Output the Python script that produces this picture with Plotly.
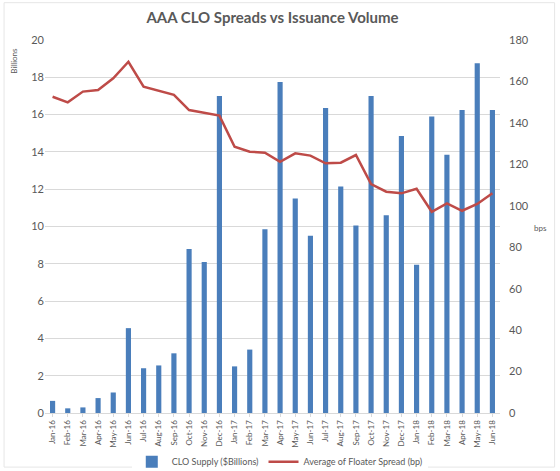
import plotly.graph_objects as go

months = ["Jan-16","Feb-16","Mar-16","Apr-16","May-16","Jun-16","Jul-16","Aug-16","Sep-16","Oct-16",
          "Nov-16","Dec-16","Jan-17","Feb-17","Mar-17","Apr-17","May-17","Jun-17","Jul-17","Aug-17",
          "Sep-17","Oct-17","Nov-17","Dec-17","Jan-18","Feb-18","Mar-18","Apr-18","May-18","Jun-18"]
supply = [0.65, 0.25, 0.3, 0.8, 1.1, 4.55, 2.4, 2.55, 3.2, 8.8,
          8.1, 17.0, 2.5, 3.4, 9.85, 17.75, 11.5, 9.5, 16.35, 12.15,
          10.05, 17.0, 10.6, 14.85, 7.95, 15.9, 13.85, 16.25, 18.75, 16.25]
spread = [152.6, 149.9, 155.1, 155.9, 161.5, 169.5, 157.5, 155.5, 153.5, 146.2,
          144.9, 143.5, 128.5, 126.1, 125.6, 121.2, 125.3, 124.2, 120.5, 120.8,
          124.5, 110.5, 106.8, 106.0, 108.2, 97.1, 101.2, 97.6, 100.9, 106.0]
left_ticks = [0, 2, 4, 6, 8, 10, 12, 14, 16, 18, 20]
right_ticks = [0, 20, 40, 60, 80, 100, 120, 140, 160, 180]

FONT = "Lato, Open Sans, sans-serif"
GRAY = "#595959"

fig = go.Figure()
fig.add_trace(go.Bar(x=months, y=supply, name="CLO Supply ($Billions)",
                     marker=dict(color="#4a7ebb", line=dict(width=0)), yaxis="y"))
fig.add_trace(go.Scatter(x=months, y=spread, name="Average of Floater Spread (bp)",
                         mode="lines", line=dict(color="#be4b48", width=2.5), yaxis="y2"))

fig.update_layout(
    width=560, height=471,
    margin=dict(l=45, r=60, t=40, b=58, autoexpand=False),
    paper_bgcolor="white", plot_bgcolor="white",
    font=dict(family=FONT, color=GRAY),
    title=dict(text="<b>AAA CLO Spreads vs Issuance Volume</b>", x=0.5, xanchor="center",
               xref="paper", y=0.962, yanchor="middle", font=dict(size=15, color=GRAY, family=FONT)),
    bargap=0.66,
    showlegend=True,
    legend=dict(orientation="h", x=0.516, xanchor="center", y=-0.131, yanchor="middle",
                font=dict(size=9, color=GRAY), traceorder="normal", itemwidth=30),
    xaxis=dict(type="category", range=[-0.5, 29.5], tickangle=-90, automargin=False,
               tickfont=dict(size=8, color=GRAY), showgrid=False,
               showline=True, linecolor="#d9d9d9", ticks="outside", ticklen=3, tickcolor="#d9d9d9"),
    yaxis=dict(range=[0, 20], tickvals=left_ticks, showgrid=True, gridcolor="#d9d9d9",
               automargin=False,
               tickfont=dict(size=11, color=GRAY), zeroline=False, showline=False),
    yaxis2=dict(range=[0, 180], tickvals=right_ticks, overlaying="y", side="right",
                automargin=False,
                showgrid=False, tickfont=dict(size=11, color=GRAY), zeroline=False,
                ticklabelstandoff=8),
    annotations=[
        dict(text="Billions", xref="paper", yref="paper", x=-0.068, y=0.985, xanchor="center",
             yanchor="top", textangle=-90, showarrow=False, font=dict(size=8, color=GRAY)),
        dict(text="bps", xref="paper", yref="paper", x=1.088, y=0.495, xanchor="center",
             yanchor="middle", showarrow=False, font=dict(size=8, color=GRAY)),
    ],
    shapes=[dict(type="rect", xref="paper", yref="paper", x0=-0.09, x1=1.12, y0=-0.145, y1=1.10,
                 line=dict(color="#e6e6e6", width=1), layer="below")],
)

fig.write_html("out.html", config={"displayModeBar": False},
               post_script="document.body.style.margin='0';")
